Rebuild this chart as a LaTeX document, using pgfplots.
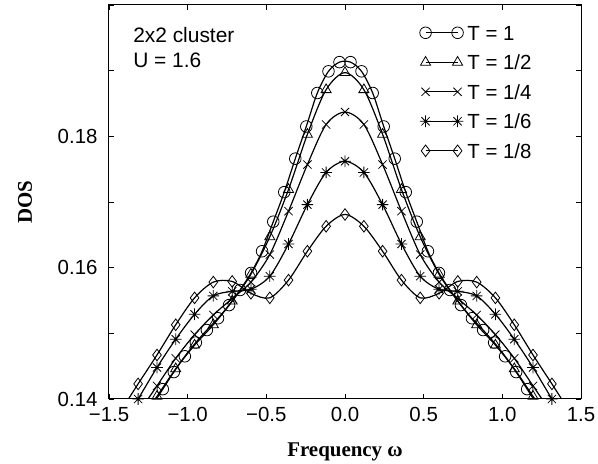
\documentclass[border=0pt]{standalone}
\usepackage{fontspec}
\setmainfont{Liberation Sans}
\newfontfamily\timesfont{Liberation Serif}
\usepackage{pgfplots}
\pgfplotsset{compat=1.18}

% eight-spoke star, like the original's "*"
\pgfdeclareplotmark{ast8}{%
  \pgfpathmoveto{\pgfqpoint{-\pgfplotmarksize}{0pt}}\pgfpathlineto{\pgfqpoint{\pgfplotmarksize}{0pt}}%
  \pgfpathmoveto{\pgfqpoint{0pt}{-\pgfplotmarksize}}\pgfpathlineto{\pgfqpoint{0pt}{\pgfplotmarksize}}%
  \pgfpathmoveto{\pgfqpoint{-.707\pgfplotmarksize}{-.707\pgfplotmarksize}}\pgfpathlineto{\pgfqpoint{.707\pgfplotmarksize}{.707\pgfplotmarksize}}%
  \pgfpathmoveto{\pgfqpoint{-.707\pgfplotmarksize}{.707\pgfplotmarksize}}\pgfpathlineto{\pgfqpoint{.707\pgfplotmarksize}{-.707\pgfplotmarksize}}%
  \pgfusepathqstroke}

\begin{document}
\begin{tikzpicture}
\begin{axis}[
    scale only axis,
    width=472bp, height=394bp,
    xmin=-1.5, xmax=1.5, ymin=0.14, ymax=0.20,
    xtick={-1.5,-1,-0.5,0,0.5,1,1.5},
    xticklabels={−1.5,−1.0,−0.5,0.0,0.5,1.0,1.5},
    ytick={0.14,0.15,0.16,0.17,0.18,0.19,0.20},
    yticklabels={0.14,,0.16,,0.18,,},
    scaled ticks=false,
    tick align=inside,
    major tick length=5bp,
    axis line style={line width=1bp},
    every tick/.style={black, line width=0.9bp},
    ticklabel style={font=\fontsize{20.5}{24}\selectfont},
    yticklabel style={xshift=-8bp},
    xticklabel style={yshift=-5bp},
    xlabel={\timesfont\bfseries Frequency ω},
    ylabel={\timesfont\bfseries DOS},
    every axis x label/.style={at={(axis description cs:0.5,-0.1345)}, anchor=center, font=\fontsize{21}{24}\selectfont},
    every axis y label/.style={at={(axis description cs:-0.178,0.5)}, anchor=center, rotate=90, font=\fontsize{21}{24}\selectfont},
    legend style={at={(rel axis cs:0.658,0.949)}, anchor=north west, draw=none, fill=none,
      inner sep=0pt, row sep=14.5bp, column sep=4bp,
      nodes={inner sep=0pt, text height=15bp, text depth=0pt, font=\fontsize{20.5}{24}\selectfont}},
    legend cell align=left,
    legend image code/.code={\draw[#1, mark indices={1,2}] plot coordinates {(0bp,0bp) (32bp,0bp)};},
    every axis plot/.append style={black, line width=1.2bp, smooth, mark size=5.8bp,
      mark options={black, line width=0.8bp, solid}},
  ]
  \coordinate (sw) at (rel axis cs:0,0);
  \coordinate (ne) at (rel axis cs:1,1);

  % T = 1
  \addplot[black, mark=o, mark indices={1,...,34}] table {
    -1.26  0.1377
    -1.158 0.1415
    -1.088 0.1441
    -1.018 0.1465
    -0.948 0.1486
    -0.878 0.1505
    -0.807 0.1523
    -0.737 0.1543
    -0.667 0.1566
    -0.597 0.1592
    -0.527 0.1625
    -0.456 0.1670
    -0.386 0.1715
    -0.316 0.1766
    -0.246 0.1815
    -0.176 0.1866
    -0.105 0.1899
    -0.035 0.1913
     0.035 0.1913
     0.105 0.1899
     0.176 0.1866
     0.246 0.1815
     0.316 0.1766
     0.386 0.1715
     0.456 0.1670
     0.527 0.1625
     0.597 0.1592
     0.667 0.1566
     0.737 0.1543
     0.807 0.1523
     0.878 0.1505
     0.948 0.1486
     1.018 0.1465
     1.088 0.1441
     1.158 0.1415
     1.26  0.1377
  };
  \addlegendentry{T = 1}

  % T = 1/2
  \addplot[black, mark=triangle, mark indices={1,...,21}] table {
    -1.315 0.1362
    -1.195 0.1404
    -1.076 0.1446
    -0.956 0.1482
    -0.837 0.1513
    -0.717 0.1549
    -0.598 0.1590
    -0.478 0.1647
    -0.359 0.1719
    -0.239 0.1803
    -0.120 0.1871
     0.000 0.1897
     0.120 0.1871
     0.239 0.1803
     0.359 0.1719
     0.478 0.1647
     0.598 0.1590
     0.717 0.1549
     0.837 0.1513
     0.956 0.1482
     1.076 0.1446
     1.195 0.1404
     1.315 0.1362
  };
  \addlegendentry{T = 1/2}

  % T = 1/4
  \addplot[black, mark=x, mark indices={1,...,21}] table {
    -1.315 0.1378
    -1.195 0.1420
    -1.076 0.1462
    -0.956 0.1498
    -0.837 0.1528
    -0.717 0.1553
    -0.598 0.1578
    -0.478 0.1620
    -0.359 0.1686
    -0.239 0.1757
    -0.120 0.1818
     0.000 0.1837
     0.120 0.1818
     0.239 0.1757
     0.359 0.1686
     0.478 0.1620
     0.598 0.1578
     0.717 0.1553
     0.837 0.1528
     0.956 0.1498
     1.076 0.1462
     1.195 0.1420
     1.315 0.1378
  };
  \addlegendentry{T = 1/4}

  % T = 1/6
  \addplot[black, mark=ast8, mark indices={1,...,23}] table {
    -1.435 0.1354
    -1.315 0.1400
    -1.195 0.1448
    -1.076 0.1491
    -0.956 0.1529
    -0.837 0.1557
    -0.717 0.1564
    -0.598 0.1567
    -0.478 0.1587
    -0.359 0.1636
    -0.239 0.1696
    -0.120 0.1745
     0.000 0.1762
     0.120 0.1745
     0.239 0.1696
     0.359 0.1636
     0.478 0.1587
     0.598 0.1567
     0.717 0.1564
     0.837 0.1557
     0.956 0.1529
     1.076 0.1491
     1.195 0.1448
     1.315 0.1400
     1.435 0.1354
  };
  \addlegendentry{T = 1/6}

  % T = 1/8
  \addplot[black, mark=diamond, mark indices={1,...,23}] table {
    -1.435 0.1378
    -1.315 0.1423
    -1.195 0.1467
    -1.076 0.1513
    -0.956 0.1554
    -0.837 0.1578
    -0.717 0.1579
    -0.598 0.1561
    -0.478 0.1554
    -0.359 0.1581
    -0.239 0.1625
    -0.120 0.1663
     0.000 0.1681
     0.120 0.1663
     0.239 0.1625
     0.359 0.1581
     0.478 0.1554
     0.598 0.1561
     0.717 0.1579
     0.837 0.1578
     0.956 0.1554
     1.076 0.1513
     1.195 0.1467
     1.315 0.1423
     1.435 0.1378
  };
  \addlegendentry{T = 1/8}

  \node[anchor=north west, align=left, inner sep=0pt, font=\fontsize{21}{25}\selectfont]
    at (rel axis cs:0.051,0.943) {2x2 cluster\\U = 1.6};
\end{axis}
\pgfresetboundingbox
\path[use as bounding box] ([shift={(-109bp,-65bp)}]sw) rectangle ([shift={(17bp,5bp)}]ne);
\end{tikzpicture}
\end{document}
